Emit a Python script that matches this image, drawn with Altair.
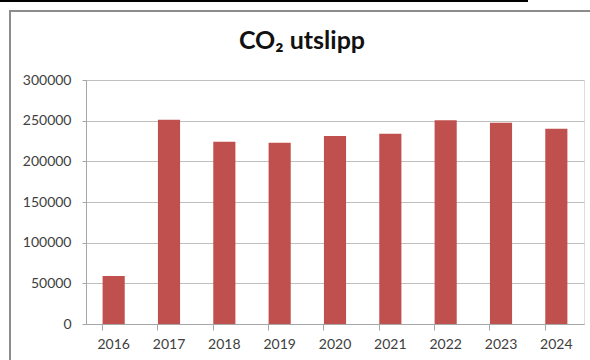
import altair as alt
import pandas as pd

# Annual CO2 emissions
years = ["2016", "2017", "2018", "2019", "2020", "2021", "2022", "2023", "2024"]
emissions = [59000, 251000, 224000, 223000, 231000, 234000, 250500, 247500, 240000]
y_ticks = [0, 50000, 100000, 150000, 200000, 250000, 300000]

df = pd.DataFrame({"year": years, "co2": emissions})

FONT = "Lato"
TEXT = "#404040"
GRID = "#BFBFBF"

bars = alt.Chart(df).mark_bar(color="#C0504D").encode(
    x=alt.X(
        "year:N",
        sort=years,
        title=None,
        scale=alt.Scale(paddingInner=0.6, paddingOuter=0.3),
        axis=alt.Axis(
            labelAngle=0,
            labelFont=FONT,
            labelFontSize=14,
            labelColor=TEXT,
            labelPadding=7,
            domainColor="#A6A6A6",
            tickColor="#A6A6A6",
            tickSize=6,
            bandPosition=0,
            grid=False,
        ),
    ),
    y=alt.Y(
        "co2:Q",
        title=None,
        scale=alt.Scale(domain=[0, 300000], nice=False),
        axis=alt.Axis(
            values=y_ticks,
            format="d",
            labelFont=FONT,
            labelFontSize=14,
            labelColor=TEXT,
            labelPadding=11,
            domainColor="#A6A6A6",
            tickColor="#A6A6A6",
            tickSize=4,
            gridColor=GRID,
            gridWidth=1.2,
        ),
    ),
)

# chart frame and the separator line above it
frame = alt.Chart(df).mark_rect(
    fill=None, stroke="#8C8C8C", strokeWidth=2
).encode(
    x=alt.value(-76), x2=alt.value(620),
    y=alt.value(-69), y2=alt.value(400),
)
top_line = alt.Chart(df).mark_rule(color="#000000", strokeWidth=2).encode(
    x=alt.value(-90), x2=alt.value(442), y=alt.value(-79),
)

chart = (
    alt.layer(frame, top_line, bars)
    .properties(
        width=498,
        height=244,
        padding={"left": 86, "top": 80, "right": 6, "bottom": 36},
        autosize=alt.AutoSizeParams(type="none"),
        title=alt.TitleParams(
            text="CO₂ utslipp",
            font=FONT,
            fontSize=25,
            fontWeight="bold",
            color="#111111",
            anchor="middle",
            baseline="alphabetic",
            dx=-33,
            offset=-74,
        ),
    )
    .configure_view(stroke=None)
    .configure(background="white")
)

chart.save("out.html", embed_options={"renderer": "svg", "actions": False})
